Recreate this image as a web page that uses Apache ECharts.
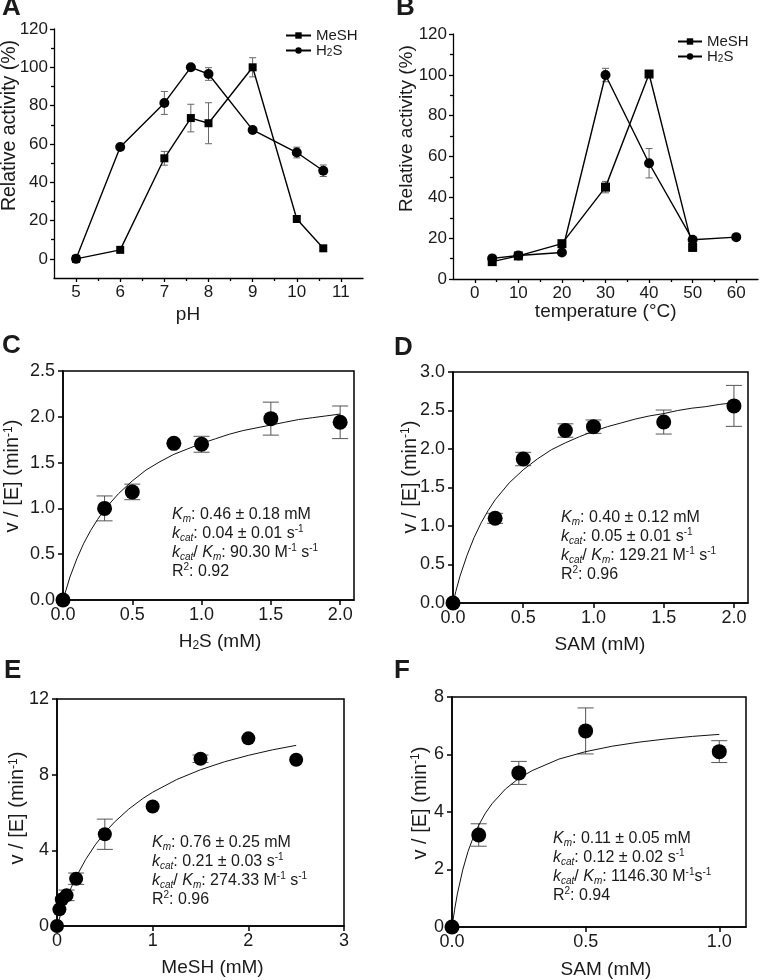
<!DOCTYPE html>
<html>
<head>
<meta charset="utf-8">
<script src="https://cdn.jsdelivr.net/npm/echarts@6/dist/echarts.min.js"></script>
<style>
  html, body { margin: 0; background: #fff; }
  #chart { width: 760px; height: 980px; }
</style>
</head>
<body>
<div id="chart"></div>
<script>
// A: pH profile
const phX = [5, 6, 7, 7.6, 8, 9, 10, 10.6];
const phMeSH = [0, 4.7, 52.5, 73.5, 70.8, 100, 20.8, 5.5];
const phMeSHErr = [0, 0, 3.6, 7.2, 10.7, 5, 1.4, 0.8];
const phH2S = [0, 58.4, 81.4, 100, 96.5, 67.3, 55.5, 46];
const phH2SErr = [0, 0, 6, 0, 3.3, 0, 2.8, 3];

// B: temperature profile
const tempMeSHX = [4, 10, 20, 30, 40, 50];
const tempMeSH = [8.5, 11.3, 17.3, 45, 100.4, 15.5];
const tempMeSHErr = [0.8, 0.5, 1, 2.8, 0.5, 2];
const tempH2SX = [4, 10, 20, 30, 40, 50, 60];
const tempH2S = [10.1, 11.5, 13, 99.9, 56.7, 19.2, 20.5];
const tempH2SErr = [0.5, 0.5, 1.5, 3.3, 7.2, 0.5, 1];

// C: H2S kinetics
const h2sConc = [0, 0.3, 0.5, 0.8, 1.0, 1.5, 2.0];
const h2sRate = [0, 1.0, 1.18, 1.71, 1.70, 1.98, 1.94];
const h2sErr = [0, 0.136, 0.085, 0, 0.087, 0.18, 0.178];
const h2sFitX = [0, 0.02, 0.05, 0.1, 0.15, 0.2, 0.25, 0.3, 0.4, 0.5, 0.6, 0.7, 0.8, 0.9, 1.0, 1.1, 1.2, 1.3, 1.4, 1.5, 1.6, 1.7, 1.8, 1.9, 2.0];
const h2sFitY = [0, 0.10, 0.25, 0.45, 0.62, 0.76, 0.88, 0.99, 1.16, 1.30, 1.42, 1.51, 1.59, 1.65, 1.71, 1.76, 1.81, 1.85, 1.88, 1.91, 1.94, 1.97, 1.99, 2.01, 2.03];

// D: SAM kinetics (with H2S)
const samConc = [0, 0.3, 0.5, 0.8, 1.0, 1.5, 2.0];
const samRate = [0, 1.1, 1.87, 2.24, 2.29, 2.35, 2.56];
const samErr = [0, 0.065, 0.087, 0.087, 0.087, 0.156, 0.266];
const samFitX = [0, 0.02, 0.05, 0.1, 0.15, 0.2, 0.25, 0.3, 0.4, 0.5, 0.6, 0.7, 0.8, 0.9, 1.0, 1.1, 1.2, 1.3, 1.4, 1.5, 1.6, 1.7, 1.8, 1.9, 2.0];
const samFitY = [0, 0.15, 0.35, 0.62, 0.85, 1.04, 1.20, 1.34, 1.56, 1.73, 1.87, 1.99, 2.08, 2.16, 2.23, 2.29, 2.34, 2.39, 2.43, 2.46, 2.50, 2.53, 2.55, 2.58, 2.60];

// E: MeSH kinetics
const meshConc = [0, 0.025, 0.05, 0.1, 0.2, 0.5, 1.0, 1.5, 2.0, 2.5];
const meshRate = [0, 0.88, 1.4, 1.62, 2.5, 4.85, 6.32, 8.84, 9.92, 8.79];
const meshErr = [0, 0, 0, 0.28, 0.3, 0.8, 0, 0.2, 0, 0];
const meshFitX = [0, 0.02, 0.05, 0.1, 0.15, 0.2, 0.3, 0.4, 0.5, 0.6, 0.75, 0.9, 1.0, 1.25, 1.5, 1.75, 2.0, 2.25, 2.5];
const meshFitY = [0, 0.32, 0.77, 1.45, 2.05, 2.59, 3.52, 4.29, 4.94, 5.49, 6.18, 6.75, 7.07, 7.74, 8.26, 8.68, 9.02, 9.31, 9.55];

// F: SAM kinetics (with MeSH)
const sam2Conc = [0, 0.1, 0.25, 0.5, 1.0];
const sam2Rate = [0, 3.2, 5.36, 6.82, 6.10];
const sam2Err = [0, 0.39, 0.4, 0.8, 0.38];
const sam2FitX = [0, 0.01, 0.02, 0.04, 0.06, 0.08, 0.1, 0.125, 0.15, 0.2, 0.25, 0.3, 0.4, 0.5, 0.6, 0.7, 0.8, 0.9, 1.0];
const sam2FitY = [0, 0.62, 1.15, 1.98, 2.63, 3.13, 3.54, 3.96, 4.29, 4.80, 5.17, 5.44, 5.84, 6.10, 6.29, 6.43, 6.54, 6.63, 6.70];

const FONT = '"Liberation Sans", Arial, Helvetica, sans-serif';
const INK = '#1a1a1a';

const grids = [], xAxes = [], yAxes = [], series = [], graphics = [];

function zip(xs, ys) { return xs.map((x, i) => [x, ys[i]]); }

function addAxis(list, dim, gi, c) {
  const common = {
    type: 'value', gridIndex: gi, min: c.min, max: c.max,
    position: dim === 'x' ? 'bottom' : 'left', splitLine: { show: false }
  };
  list.push(Object.assign({}, common, {
    axisLine: { onZero: false, lineStyle: { color: '#000', width: c.lw } },
    axisTick: { customValues: c.major, length: c.tick, lineStyle: { color: '#000', width: c.lw } },
    axisLabel: { customValues: c.major, formatter: v => Number(v).toFixed(c.dec), fontFamily: FONT, fontSize: c.labelSize, color: INK, margin: c.margin }
  }));
  const main = list.length - 1;
  if (c.minor) {
    list.push(Object.assign({}, common, {
      axisLine: { show: false, onZero: false }, axisLabel: { show: false },
      axisTick: { customValues: c.minor, length: 3, lineStyle: { color: '#000', width: c.lw } }
    }));
  }
  return main;
}

function panel(box, boxed, xc, yc) {
  grids.push({ left: box[0], top: box[1], width: box[2], height: box[3], show: boxed, borderColor: '#000', borderWidth: 1.5, backgroundColor: 'transparent' });
  const gi = grids.length - 1;
  return { x: addAxis(xAxes, 'x', gi, xc), y: addAxis(yAxes, 'y', gi, yc) };
}

function errBars(ax, xs, ys, es, cap, color) {
  const data = [];
  xs.forEach((x, i) => { if (es[i] > 0) data.push([x, ys[i] - es[i], ys[i] + es[i]]); });
  return {
    type: 'custom', xAxisIndex: ax.x, yAxisIndex: ax.y, data, z: 1, silent: true, clip: false,
    encode: { x: 0, y: [1, 2] },
    renderItem(params, api) {
      const lo = api.coord([api.value(0), api.value(1)]);
      const hi = api.coord([api.value(0), api.value(2)]);
      const st = { stroke: color, lineWidth: 1 };
      return { type: 'group', children: [
        { type: 'line', shape: { x1: lo[0], y1: lo[1], x2: hi[0], y2: hi[1] }, style: st },
        { type: 'line', shape: { x1: lo[0] - cap, y1: lo[1], x2: lo[0] + cap, y2: lo[1] }, style: st },
        { type: 'line', shape: { x1: hi[0] - cap, y1: hi[1], x2: hi[0] + cap, y2: hi[1] }, style: st }
      ] };
    }
  };
}

function profileLine(ax, name, xs, ys, symbol, size) {
  return {
    type: 'line', name, xAxisIndex: ax.x, yAxisIndex: ax.y, data: zip(xs, ys),
    symbol, symbolSize: size, showSymbol: true, clip: false, z: 3,
    lineStyle: { color: '#000', width: 1.4 }, itemStyle: { color: '#000', opacity: 1 }
  };
}

function kinetic(ax, xs, ys, es, fx, fy, size) {
  series.push(errBars(ax, xs, ys, es, 8, '#555'));
  series.push({
    type: 'line', xAxisIndex: ax.x, yAxisIndex: ax.y, data: zip(fx, fy),
    showSymbol: false, smooth: false, z: 2,
    lineStyle: { color: '#111', width: 1 }
  });
  series.push({
    type: 'scatter', xAxisIndex: ax.x, yAxisIndex: ax.y, data: zip(xs, ys),
    symbol: 'circle', symbolSize: size, clip: false, z: 3, itemStyle: { color: '#000', opacity: 1 }
  });
}

// axis titles and other texts
function titleRich(size) {
  return {
    n: { fontFamily: FONT, fontSize: size, fill: INK },
    sup: { fontFamily: FONT, fontSize: Math.round(size * 0.6), fill: INK, verticalAlign: 'top' },
    sub: { fontFamily: FONT, fontSize: Math.round(size * 0.65), fill: INK, verticalAlign: 'bottom' }
  };
}
function title(text, x, y, size, vertical) {
  graphics.push({ type: 'text', x, y, rotation: vertical ? Math.PI / 2 : 0, silent: true,
    style: { text, rich: titleRich(size), font: size + 'px ' + FONT, fill: INK, align: 'center', verticalAlign: 'middle' } });
}

const profX = { lw: 1.3, tick: 4, labelSize: 17, margin: 6, dec: 0 };
const profY = { lw: 1.3, tick: 4, labelSize: 17, margin: 6, dec: 0 };
const kinX = { lw: 1.5, tick: 5, labelSize: 18, margin: 6 };
const kinY = { lw: 1.5, tick: 5, labelSize: 18, margin: 8 };
const vName = '{n|v / [E] (min}{sup|-1}{n|)}';

// A
const axA = panel([54, 29, 309, 249], false,
  Object.assign({}, profX, { min: 4.5, max: 11.5, major: [5, 6, 7, 8, 9, 10, 11], minor: [5.5, 6.5, 7.5, 8.5, 9.5, 10.5] }),
  Object.assign({}, profY, { min: -10, max: 120, major: [0, 20, 40, 60, 80, 100, 120], minor: [10, 30, 50, 70, 90, 110] }));
series.push(errBars(axA, phX, phMeSH, phMeSHErr, 3.5, '#666'));
series.push(errBars(axA, phX, phH2S, phH2SErr, 3.5, '#666'));
series.push(profileLine(axA, 'MeSH', phX, phMeSH, 'rect', 8));
series.push(profileLine(axA, 'H2S', phX, phH2S, 'circle', 10));
title('Relative activity (%)', 10, 125.5, 19.5, true);
title('pH', 188, 315, 19, false);

// B
const axB = panel([453, 34, 305, 245], false,
  Object.assign({}, profX, { min: -5, max: 65, major: [0, 10, 20, 30, 40, 50, 60], minor: [5, 15, 25, 35, 45, 55] }),
  Object.assign({}, profY, { min: 0, max: 120, major: [0, 20, 40, 60, 80, 100, 120], minor: [10, 30, 50, 70, 90, 110] }));
series.push(errBars(axB, tempMeSHX, tempMeSH, tempMeSHErr, 3.5, '#666'));
series.push(errBars(axB, tempH2SX, tempH2S, tempH2SErr, 3.5, '#666'));
series.push(profileLine(axB, 'MeSH', tempMeSHX, tempMeSH, 'rect', 9));
series.push(profileLine(axB, 'H2S', tempH2SX, tempH2S, 'circle', 10));
title('Relative activity (%)', 406.5, 128.7, 19, true);
title('temperature (°C)', 605.7, 311.7, 19, false);

// C
const axC = panel([63, 371, 291, 229], true,
  Object.assign({}, kinX, { min: 0, max: 2.1, major: [0, 0.5, 1, 1.5, 2], dec: 1 }),
  Object.assign({}, kinY, { min: 0, max: 2.5, major: [0, 0.5, 1, 1.5, 2, 2.5], dec: 1 }));
kinetic(axC, h2sConc, h2sRate, h2sErr, h2sFitX, h2sFitY, 15);
title(vName, 12.5, 476, 20, true);
title('{n|H}{sub|2}{n|S (mM)}', 220, 642, 19, false);

// D
const axD = panel([453, 372, 295, 231], true,
  Object.assign({}, kinX, { min: 0, max: 2.1, major: [0, 0.5, 1, 1.5, 2], dec: 1 }),
  Object.assign({}, kinY, { min: 0, max: 3, major: [0, 0.5, 1, 1.5, 2, 2.5, 3], dec: 1 }));
kinetic(axD, samConc, samRate, samErr, samFitX, samFitY, 15);
title(vName, 410, 477, 20, true);
title('SAM (mM)', 600, 645, 19, false);

// E
const axE = panel([57, 699, 287, 227], true,
  Object.assign({}, kinX, { min: 0, max: 3, major: [0, 1, 2, 3], dec: 0 }),
  Object.assign({}, kinY, { min: 0, max: 12, major: [0, 4, 8, 12], dec: 0 }));
kinetic(axE, meshConc, meshRate, meshErr, meshFitX, meshFitY, 14);
title(vName, 17.5, 808, 20, true);
title('MeSH (mM)', 212.5, 968, 19, false);

// F
const axF = panel([452, 697, 294, 230], true,
  Object.assign({}, kinX, { min: 0, max: 1.1, major: [0, 0.5, 1], dec: 1 }),
  Object.assign({}, kinY, { min: 0, max: 8, major: [0, 2, 4, 6, 8], dec: 0 }));
kinetic(axF, sam2Conc, sam2Rate, sam2Err, sam2FitX, sam2FitY, 15);
title(vName, 420, 803, 20, true);
title('SAM (mM)', 606, 970, 19, false);

// panel letters
[['A', 2, -5], ['B', 396, -5], ['C', 2, 333], ['D', 394, 335], ['E', 4, 658], ['F', 394, 658]].forEach(p => {
  graphics.push({ type: 'text', x: p[1], y: p[2], silent: true,
    style: { text: p[0], fill: INK, font: 'bold 26px ' + FONT, verticalAlign: 'top' } });
});

// kinetic parameter notes
const noteRich = {
  n: { fontFamily: FONT, fontSize: 16, fill: INK, lineHeight: 19 },
  i: { fontFamily: FONT, fontSize: 16, fontStyle: 'italic', fill: INK, lineHeight: 19 },
  isub: { fontFamily: FONT, fontSize: 10, fontStyle: 'italic', fill: INK, verticalAlign: 'bottom', lineHeight: 8 },
  sup: { fontFamily: FONT, fontSize: 10, fill: INK, verticalAlign: 'top', lineHeight: 12 }
};
function note(x, y, lines) {
  graphics.push({ type: 'text', x, y, silent: true,
    style: { text: lines.join('\n'), rich: noteRich, fill: INK, font: '16px ' + FONT, verticalAlign: 'top' } });
}
note(172, 505, [
  '{i|K}{isub|m}{n|: 0.46 ± 0.18 mM}',
  '{i|k}{isub|cat}{n|: 0.04 ± 0.01 s}{sup|-1}',
  '{i|k}{isub|cat}{n|/ }{i|K}{isub|m}{n|: 90.30 M}{sup|-1}{n| s}{sup|-1}',
  '{n|R}{sup|2}{n|: 0.92}'
]);
note(561, 508, [
  '{i|K}{isub|m}{n|: 0.40 ± 0.12 mM}',
  '{i|k}{isub|cat}{n|: 0.05 ± 0.01 s}{sup|-1}',
  '{i|k}{isub|cat}{n|/ }{i|K}{isub|m}{n|: 129.21 M}{sup|-1}{n| s}{sup|-1}',
  '{n|R}{sup|2}{n|: 0.96}'
]);
note(152, 833, [
  '{i|K}{isub|m}{n|: 0.76 ± 0.25 mM}',
  '{i|k}{isub|cat}{n|: 0.21 ± 0.03 s}{sup|-1}',
  '{i|k}{isub|cat}{n|/ }{i|K}{isub|m}{n|: 274.33 M}{sup|-1}{n| s}{sup|-1}',
  '{n|R}{sup|2}{n|: 0.96}'
]);
note(553, 829, [
  '{i|K}{isub|m}{n|: 0.11 ± 0.05 mM}',
  '{i|k}{isub|cat}{n|: 0.12 ± 0.02 s}{sup|-1}',
  '{i|k}{isub|cat}{n|/ }{i|K}{isub|m}{n|: 1146.30 M}{sup|-1}{n|s}{sup|-1}',
  '{n|R}{sup|2}{n|: 0.94}'
]);

function legendAt(left, top, w) {
  return {
    data: ['MeSH', 'H2S'], left, top, orient: 'vertical', padding: 0, itemGap: 0,
    itemWidth: w, itemHeight: 8, selectedMode: false,
    formatter: name => name === 'H2S' ? '{n|H}{sub|2}{n|S}' : '{n|' + name + '}',
    textStyle: { fontFamily: FONT, fontSize: 15, color: INK, lineHeight: 15, rich: {
      n: { fontFamily: FONT, fontSize: 15, color: INK },
      sub: { fontFamily: FONT, fontSize: 10, color: INK, verticalAlign: 'bottom' }
    } }
  };
}

const chart = echarts.init(document.getElementById('chart'), null, { renderer: 'canvas' });
chart.setOption({
  animation: false,
  backgroundColor: '#fff',
  textStyle: { fontFamily: FONT },
  grid: grids,
  xAxis: xAxes,
  yAxis: yAxes,
  legend: [legendAt(285, 28, 25), legendAt(677, 34, 24)],
  graphic: graphics,
  series
});
</script>
</body>
</html>
